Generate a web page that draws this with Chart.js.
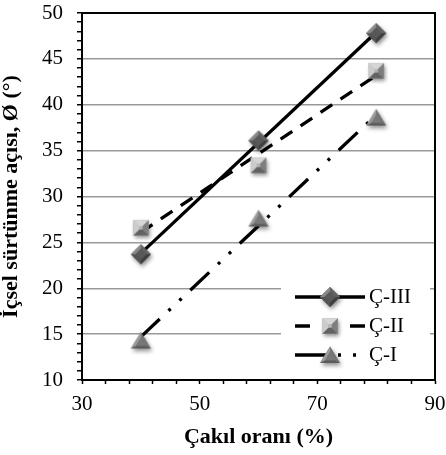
<!DOCTYPE html>
<html><head><meta charset="utf-8">
<script src="https://cdn.jsdelivr.net/npm/chart.js@4/dist/chart.umd.min.js"></script>
<style>html,body{margin:0;padding:0;background:#fff}#wrap{width:446px;height:455px;position:relative}</style>
</head><body><div id="wrap"><canvas id="c" width="446" height="455"></canvas></div>
<script>
// ---- data ----
const gravelPct = [40, 60, 80];            // Çakıl oranı (%)
const phiIII = [23.7, 36.1, 47.8];         // Ç-III
const phiII  = [26.6, 33.4, 43.7];         // Ç-II
const phiI   = [14.3, 27.6, 38.6];         // Ç-I
const trendX   = [40, 80];                 // linear trendline ends
const trendIII = [23.8, 47.9];
const trendII  = [26.1, 43.2];
const trendI   = [14.7, 38.9];
const seriesNames = ['Ç-III', 'Ç-II', 'Ç-I'];
const xTickLabels = [30, 50, 70, 90];
const yTickLabels = [10, 15, 20, 25, 30, 35, 40, 45, 50];
const xTitle = 'Çakıl oranı (%)';
const yTitle = 'İçsel sürtünme açısı, Ø (°)';

const FONT = "'Liberation Serif', 'DejaVu Serif', serif";

function pts(xs, ys) { return xs.map((x, i) => ({x: x, y: ys[i]})); }

function shade(rgb, f) {
  return 'rgb(' + rgb.map(v => Math.round(f >= 0 ? v + (255 - v) * f : v * (1 + f))).join(',') + ')';
}
function makeMarker(kind) {
  const S = 32, c = document.createElement('canvas'); c.width = S; c.height = S;
  const g = c.getContext('2d'); const cx = S / 2, cy = S / 2;
  let P, base, k, amt;
  if (kind === 'diamond') { const r = 10; P = [[cx, cy - r], [cx + r, cy], [cx, cy + r], [cx - r, cy]]; base = [88, 88, 88]; k = 0.55; amt = 0.3; }
  else if (kind === 'square') { const r = 7.8; P = [[cx - r, cy - r], [cx + r, cy - r], [cx + r, cy + r], [cx - r, cy + r]]; base = [180, 180, 180]; k = 0.2; amt = 0.55; }
  else { P = [[cx, cy - 8.5], [cx + 10, cy + 8], [cx - 10, cy + 8]]; base = [120, 120, 120]; k = 0.5; amt = 0.3; }
  const path = (Q) => { g.beginPath(); g.moveTo(Q[0][0], Q[0][1]); for (let i = 1; i < Q.length; i++) g.lineTo(Q[i][0], Q[i][1]); g.closePath(); };
  g.save(); g.shadowColor = 'rgba(0,0,0,0.45)'; g.shadowBlur = 4; g.shadowOffsetX = 1.5; g.shadowOffsetY = 2.5;
  path(P); g.fillStyle = shade(base, 0); g.fill(); g.restore();
  const mx = P.reduce((s, p) => s + p[0], 0) / P.length, my = P.reduce((s, p) => s + p[1], 0) / P.length;
  const I = P.map(p => [mx + (p[0] - mx) * k, my + (p[1] - my) * k]);
  const L = [-0.55, -0.83];
  for (let i = 0; i < P.length; i++) {
    const j = (i + 1) % P.length;
    let nx = (P[i][0] + P[j][0]) / 2 - mx, ny = (P[i][1] + P[j][1]) / 2 - my;
    const n = Math.hypot(nx, ny); nx /= n; ny /= n;
    const d = nx * L[0] + ny * L[1];
    path([P[i], P[j], I[j], I[i]]); g.fillStyle = shade(base, d * amt); g.fill();
  }
  path(I); g.fillStyle = shade(base, 0); g.fill();
  return c;
}
const mkIII = makeMarker('diamond'), mkII = makeMarker('square'), mkI = makeMarker('triangle');

const LW = 3.3;
const dashII = [14, 10];
const dashI = [26, 12, 3, 12, 3, 12];

const framePlugin = {
  id: 'frame',
  beforeDatasetsDraw(chart) {
    const {ctx, chartArea: a} = chart;
    ctx.save(); ctx.strokeStyle = '#000'; ctx.lineWidth = 2;
    ctx.strokeRect(a.left, a.top, a.right - a.left, a.bottom - a.top);
    ctx.restore();
  },
  afterDatasetsDraw(chart) {
    const ctx = chart.ctx;
    ctx.save();
    ctx.fillStyle = '#fff';
    ctx.fillRect(281, 278, 149, 100);
    const rows = [297, 326, 355];
    const mk = [mkIII, mkII, mkI];
    ctx.strokeStyle = '#000'; ctx.lineWidth = 3.5; ctx.lineCap = 'butt';
    ctx.setLineDash([]); ctx.beginPath(); ctx.moveTo(295, rows[0]); ctx.lineTo(365, rows[0]); ctx.stroke();
    ctx.setLineDash([15, 40]); ctx.beginPath(); ctx.moveTo(295, rows[1]); ctx.lineTo(365, rows[1]); ctx.stroke();
    ctx.setLineDash([35, 8, 3, 12, 3, 40]); ctx.beginPath(); ctx.moveTo(295, rows[2]); ctx.lineTo(365, rows[2]); ctx.stroke();
    ctx.setLineDash([]);
    for (let i = 0; i < 3; i++) ctx.drawImage(mk[i], 330 - mk[i].width / 2, rows[i] - mk[i].height / 2);
    ctx.fillStyle = '#000'; ctx.font = '21px ' + FONT; ctx.textBaseline = 'middle'; ctx.textAlign = 'left';
    for (let i = 0; i < 3; i++) ctx.fillText(seriesNames[i], 369, rows[i]);
    ctx.restore();
  }
};

new Chart(document.getElementById('c'), {
  type: 'scatter',
  data: {
    datasets: [
      {label: seriesNames[0], data: pts(gravelPct, phiIII), pointStyle: mkIII, pointRadius: 10, showLine: false},
      {label: seriesNames[1], data: pts(gravelPct, phiII), pointStyle: mkII, pointRadius: 8, showLine: false},
      {label: seriesNames[2], data: pts(gravelPct, phiI), pointStyle: mkI, pointRadius: 9, showLine: false},
      {label: 'trend III', data: pts(trendX, trendIII), showLine: true, pointRadius: 0, borderColor: '#000', borderWidth: LW},
      {label: 'trend II', data: pts(trendX, trendII), showLine: true, pointRadius: 0, borderColor: '#000', borderWidth: LW, borderDash: dashII},
      {label: 'trend I', data: pts(trendX, trendI), showLine: true, pointRadius: 0, borderColor: '#000', borderWidth: LW, borderDash: dashI}
    ]
  },
  options: {
    responsive: false, animation: false, devicePixelRatio: 1,
    layout: {padding: {top: 13, right: 11, left: 0, bottom: 0}},
    plugins: {legend: {display: false}, tooltip: {enabled: false}},
    scales: {
      x: {
        type: 'linear', min: 30, max: 90,
        afterFit(s) { s.height = 75; s.paddingLeft = 0; s.paddingRight = 0; },
        afterBuildTicks(s) { const t = []; for (let v = 30; v <= 90; v += 4) t.push({value: v}); s.ticks = t; },
        ticks: {autoSkip: false, maxRotation: 0, padding: 8, color: '#000', font: {family: FONT, size: 21},
          callback: v => xTickLabels.includes(v) ? String(v) : ''},
        grid: {color: 'rgba(0,0,0,0)', tickColor: '#000', tickLength: 4, tickWidth: 1.5},
        border: {color: '#000', width: 2},
        title: {display: true, text: xTitle, color: '#000', font: {family: FONT, size: 22, weight: 'bold'}, padding: {top: 0, bottom: 4}}
      },
      y: {
        type: 'linear', min: 10, max: 50,
        afterFit(s) { s.width = 82; s.paddingTop = 0; s.paddingBottom = 0; },
        afterBuildTicks(s) { const t = []; for (let v = 10; v <= 50; v += 1) t.push({value: v}); s.ticks = t; },
        ticks: {autoSkip: false, padding: 14, color: '#000', font: {family: FONT, size: 21},
          callback: v => yTickLabels.includes(v) ? String(v) : ''},
        grid: {color: c => (c.tick && c.tick.value % 5 === 0) ? '#999' : 'rgba(0,0,0,0)', lineWidth: 1.5, tickColor: '#000', tickLength: 5, tickWidth: 1.5},
        border: {color: '#000', width: 2},
        title: {display: true, text: yTitle, color: '#000', font: {family: FONT, size: 22, weight: 'bold'}, padding: {top: -2, bottom: 0}}
      }
    }
  },
  plugins: [framePlugin]
});
</script>
</body></html>
